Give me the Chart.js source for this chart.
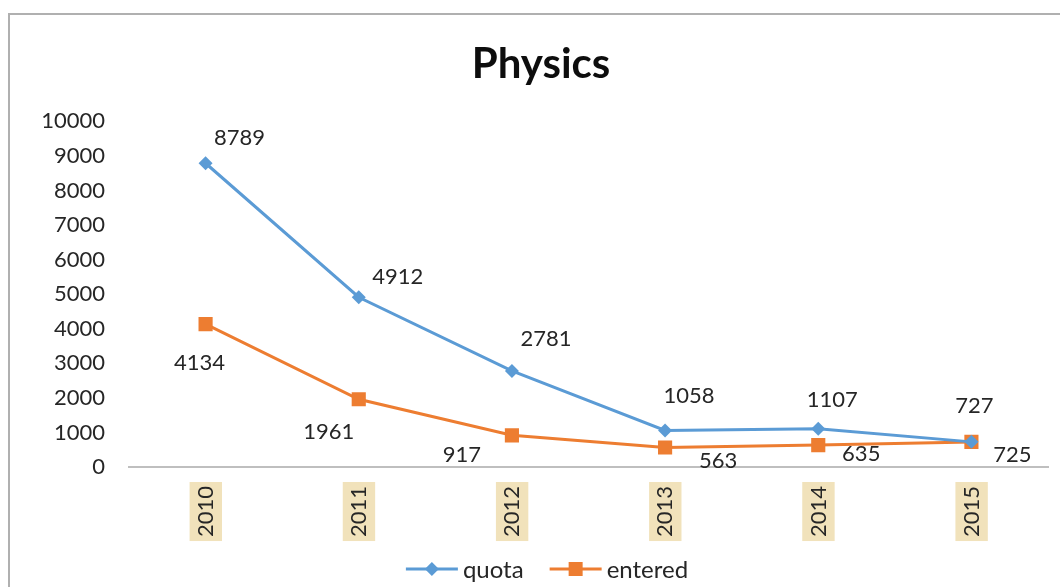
<!DOCTYPE html>
<html><head><meta charset="utf-8">
<script src="https://cdn.jsdelivr.net/npm/chart.js@4/dist/chart.umd.min.js"></script>
<style>html,body{margin:0;padding:0;background:#fff;overflow:hidden}#wrap{width:1060px;height:587px;position:relative}</style>
</head><body><div id="wrap"><canvas id="c" width="1060" height="587"></canvas></div>
<script>
const categories = ['2010','2011','2012','2013','2014','2015'];
const quota = [8789, 4912, 2781, 1058, 1107, 727];
const entered = [4134, 1961, 917, 563, 635, 725];
const seriesNames = ['quota', 'entered'];
const titleText = 'Physics';
const yMin = 0, yMax = 10000, yStep = 1000;

// label placement relative to the point (style, not data)
const quotaLabelOffsets = [[34,-25],[39,-20],[34,-32],[24,-35],[14,-29],[3,-36]];
const enteredLabelOffsets = [[-6,39],[-30,33],[-50,20],[53,13],[43,9],[41,13]];

const BLUE = '#5B9BD5', ORANGE = '#ED7D31', TEXT = '#262626';
const FONT = 'Lato, "Open Sans", sans-serif';

const frame = {
  id: 'frame',
  beforeDraw(chart) {
    const ctx = chart.ctx;
    ctx.save();
    ctx.fillStyle = '#fff'; ctx.fillRect(0, 0, chart.width, chart.height);
    ctx.strokeStyle = '#B0B0B0'; ctx.lineWidth = 2;
    ctx.beginPath(); ctx.moveTo(9, chart.height); ctx.lineTo(9, 14); ctx.lineTo(chart.width, 14); ctx.stroke();
    ctx.fillStyle = '#0D0D0D';
    ctx.font = 'bold 42px ' + FONT;
    ctx.textAlign = 'center'; ctx.textBaseline = 'middle';
    ctx.fillText(titleText, 541, 64);
    ctx.restore();
  }
};

const labels = {
  id: 'pointLabels',
  afterDatasetsDraw(chart) {
    const ctx = chart.ctx;
    const offs = [quotaLabelOffsets, enteredLabelOffsets];
    ctx.save();
    ctx.font = '22px ' + FONT;
    ctx.fillStyle = TEXT;
    ctx.textAlign = 'center'; ctx.textBaseline = 'middle';
    chart.data.datasets.forEach((ds, di) => {
      const meta = chart.getDatasetMeta(di);
      meta.data.forEach((el, i) => {
        const o = offs[di][i];
        ctx.fillText(String(ds.data[i]), el.x + o[0], el.y + o[1]);
      });
    });
    ctx.restore();
  }
};

const legendPlugin = {
  id: 'customLegend',
  afterDraw(chart) {
    const ctx = chart.ctx;
    ctx.save();
    ctx.font = '24px ' + FONT;
    const iconW = 52, gapIcon = 5, gapItem = 26, cy = 569, cx = 547;
    const items = chart.data.datasets.map((ds, i) => ({ ds, w: ctx.measureText(ds.label).width }));
    let total = 0;
    items.forEach((it, i) => { total += iconW + gapIcon + it.w + (i ? gapItem : 0); });
    let x = cx - total / 2;
    items.forEach((it, i) => {
      if (i) x += gapItem;
      const col = it.ds.borderColor;
      ctx.strokeStyle = col; ctx.lineWidth = 3;
      ctx.beginPath(); ctx.moveTo(x, cy); ctx.lineTo(x + iconW, cy); ctx.stroke();
      ctx.fillStyle = col;
      const mx = x + iconW / 2;
      if (it.ds.pointStyle === 'rectRot') {
        ctx.beginPath(); ctx.moveTo(mx, cy - 7); ctx.lineTo(mx + 7, cy); ctx.lineTo(mx, cy + 7); ctx.lineTo(mx - 7, cy); ctx.closePath(); ctx.fill();
      } else {
        ctx.fillRect(mx - 7, cy - 7, 14, 14);
      }
      x += iconW + gapIcon;
      ctx.fillStyle = TEXT; ctx.textAlign = 'left'; ctx.textBaseline = 'middle';
      ctx.fillText(it.ds.label, x, cy + 1);
      x += it.w;
    });
    ctx.restore();
  }
};

new Chart(document.getElementById('c'), {
  type: 'line',
  data: {
    labels: categories,
    datasets: [
      { label: seriesNames[0], data: quota, borderColor: BLUE, backgroundColor: BLUE, borderWidth: 3,
        pointStyle: 'rectRot', pointRadius: 7, pointHoverRadius: 7, pointBorderWidth: 0, tension: 0 },
      { label: seriesNames[1], data: entered, borderColor: ORANGE, backgroundColor: ORANGE, borderWidth: 3,
        pointStyle: 'rect', pointRadius: 10, pointHoverRadius: 10, pointBorderWidth: 0, tension: 0 }
    ]
  },
  options: {
    responsive: false,
    animation: false,
    events: [],
    layout: { padding: { left: 0, right: 12, top: 0, bottom: 34 } },
    plugins: {
      title: { display: true, text: titleText, color: 'rgba(0,0,0,0)',
        font: { family: FONT, size: 42, weight: 'bold' }, padding: { top: 39, bottom: 32 } },
      legend: { display: false },
      tooltip: { enabled: false }
    },
    scales: {
      x: {
        offset: true,
        grid: { display: false, drawTicks: false },
        border: { display: true, color: '#BFBFBF', width: 2 },
        afterFit(s) { s.height = 86; },
        ticks: { color: TEXT, font: { family: FONT, size: 22 }, minRotation: 90, maxRotation: 90, padding: 19,
          labelOffset: -13,
          showLabelBackdrop: true, backdropColor: '#F1E2BB', backdropPadding: { x: 4, y: 3 } }
      },
      y: {
        min: yMin, max: yMax,
        grid: { display: false, drawTicks: false },
        border: { display: false },
        afterFit(s) { s.width = 129; },
        ticks: { stepSize: yStep, color: TEXT, font: { family: FONT, size: 22 }, padding: 24,
          callback: v => String(v) }
      }
    }
  },
  plugins: [frame, labels, legendPlugin]
});
</script></body></html>
